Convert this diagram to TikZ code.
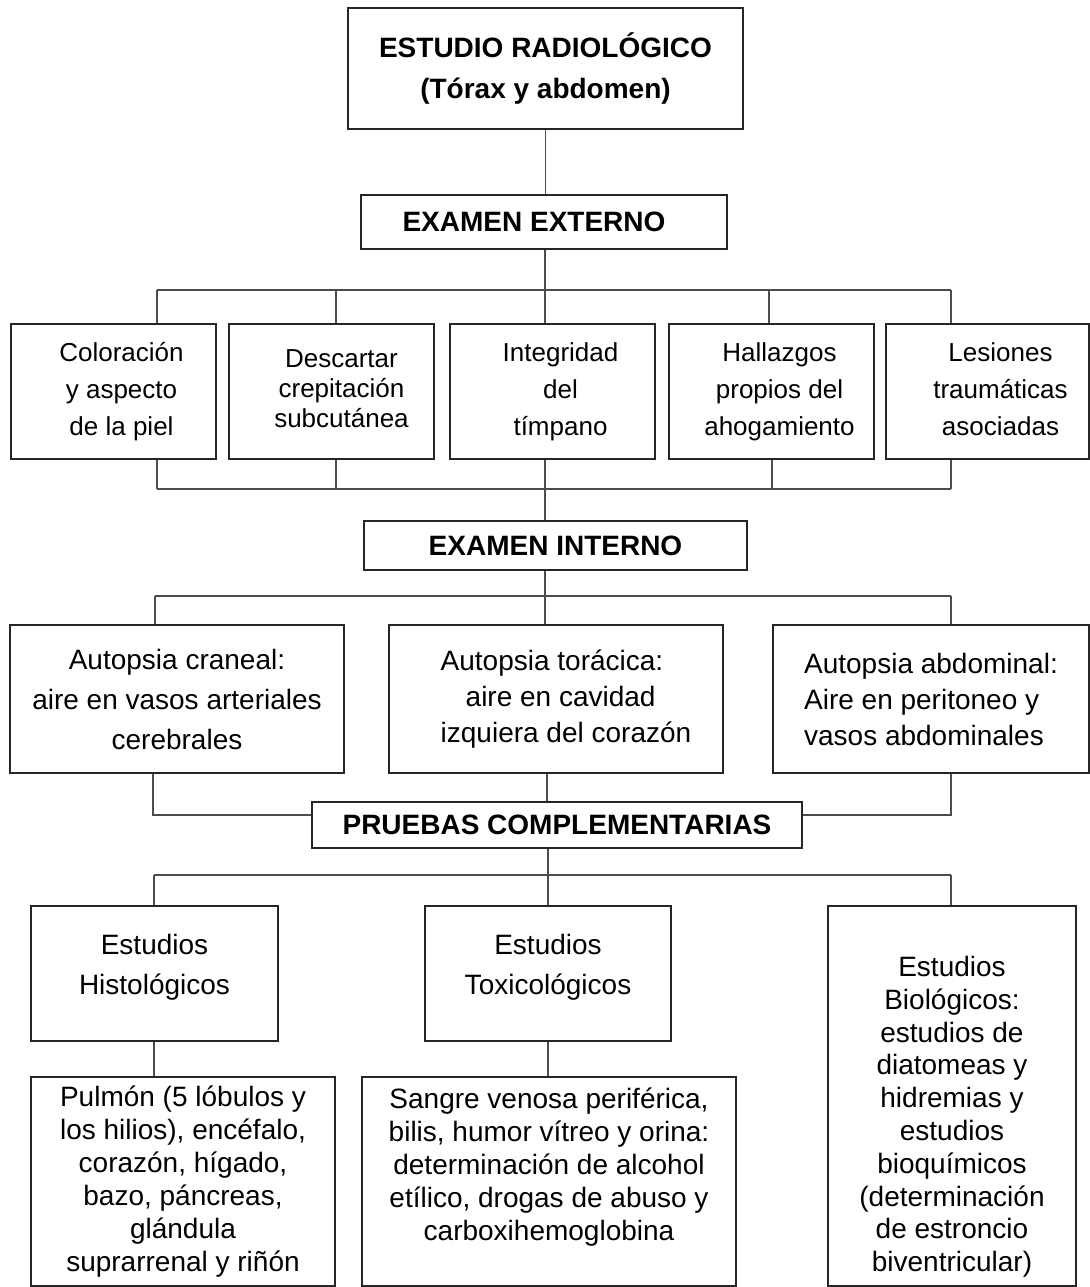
\documentclass[tikz,border=0pt]{standalone}
\usepackage{fontspec}
\setmainfont{Liberation Sans}
\newcommand\shifted[3]{\begin{tabular}{@{\hspace*{#1}}#2@{}}#3\end{tabular}}
\tikzset{
  box/.style={draw=black!85, line width=0.75pt, align=center, inner sep=0pt,
    font=\fontsize{14}{20}\selectfont},
  headbox/.style={box, font=\bfseries\fontsize{14}{20.5}\selectfont},
  smallbox/.style={box, minimum width=102.5pt, minimum height=67.5pt,
    font=\fontsize{13}{18.5}\selectfont},
  link/.style={draw=black!70, line width=0.75pt},
}
\begin{document}
\begin{tikzpicture}[x=0.5pt,y=-0.5pt]
      \useasboundingbox (0,0) rectangle (1089,1287);
      \node[headbox, minimum width=197.5pt, minimum height=60.5pt] (top) at (545.5,68.5)
        {ESTUDIO RADIOLÓGICO\\(Tórax y abdomen)};
      \node[headbox, minimum width=183pt, minimum height=27pt] (ext) at (544,222)
        {EXAMEN EXTERNO\hspace*{10pt}};
      \draw
        (113.5,391.5) node[smallbox] (col) {\shifted{8pt}{c}{Coloración\\y aspecto\\de la piel}}
        (331.5,391.5) node[smallbox, font=\fontsize{13}{15}\selectfont] (cre)
          {\shifted{10pt}{c}{Descartar\\crepitación\\subcutánea}}
        (552.5,391.5) node[smallbox] (tim) {\shifted{8pt}{c}{Integridad\\del\\tímpano}}
        (771.5,391.5) node[smallbox] (aho) {\shifted{8pt}{c}{Hallazgos\\propios del\\ahogamiento}}
        (987.5,391.5) node[smallbox, minimum width=101.5pt] (les)
          {\shifted{13pt}{c}{Lesiones\\traumáticas\\asociadas}};
      \node[headbox, minimum width=191.5pt, minimum height=24.5pt] (int) at (555.5,545.5) {EXAMEN INTERNO};
      \draw
        (177,699) node[box, minimum width=167pt, minimum height=74pt] (cra)
          {Autopsia craneal:\\aire en vasos arteriales\\cerebrales}
        (556,699) node[box, minimum width=167pt, minimum height=74pt,
          font=\fontsize{14}{18}\selectfont] (tor)
          {\shifted{10pt}{l}{Autopsia torácica:\\\hspace*{12.5pt}aire en cavidad\\izquiera del corazón}}
        (931,699) node[box, align=left, minimum width=158pt, minimum height=74pt,
          font=\fontsize{14}{18}\selectfont] (abd)
          {Autopsia abdominal:\\Aire en peritoneo y\\vasos abdominales};
      \node[headbox, minimum width=245pt, minimum height=23pt] (pru) at (557,825) {PRUEBAS COMPLEMENTARIAS};
      \draw
        (154.5,973.5) node[box, minimum width=123.5pt, minimum height=67.5pt] (his)
          {Estudios\\Histológicos\rule[-9pt]{0pt}{9pt}}
        (548,973.5) node[box, minimum width=123pt, minimum height=67.5pt] (tox)
          {Estudios\\Toxicológicos\rule[-9pt]{0pt}{9pt}}
        (952,1096) node[box, minimum width=124pt, minimum height=190pt,
          font=\fontsize{14}{16.4}\selectfont] (bio)
          {\rule{0pt}{31pt}Estudios\\Biológicos:\\estudios de\\diatomeas y\\hidremias y\\estudios\\bioquímicos\\(determinación\\de estroncio\\biventricular)}
        (183,1181.5) node[box, minimum width=152pt, minimum height=104.5pt,
          font=\fontsize{14}{16.5}\selectfont] (pul)
          {Pulmón (5 lóbulos y\\los hilios), encéfalo,\\corazón, hígado,\\bazo, páncreas,\\glándula\\suprarrenal y riñón}
        (549,1181.5) node[box, minimum width=187pt, minimum height=104.5pt,
          font=\fontsize{14}{16.5}\selectfont] (san)
          {Sangre venosa periférica,\\bilis, humor vítreo y orina:\\determinación de alcohol\\etílico, drogas de abuso y\\carboxihemoglobina\rule[-17pt]{0pt}{17pt}};
      \begin{scope}[link]
        \draw (top.south) -- (top.south |- ext.north);
        \foreach \n/\x/\y in {col/157/157, cre/336/336, tim/545/545, aho/769/772, les/951/951}{
          \coordinate (t\n) at (\x,290);
          \coordinate (b\n) at (\y,489);
          \draw (t\n) -- (t\n |- \n.north);
          \draw (b\n |- \n.south) -- (b\n);
        }
        \draw (ttim |- ext.south) -- (ttim);
        \draw (tcol) -- (tles);
        \draw (bcol) -- (bles);
        \draw (btim) -- (btim |- int.north);
        \foreach \n/\x in {cra/155, tor/545, abd/951}{
          \coordinate (u\n) at (\x,596);
          \draw (u\n) -- (u\n |- \n.north);
        }
        \draw (ucra) -- (uabd);
        \draw (utor |- int.south) -- (utor);
        \coordinate (dcra) at (153,815);
        \coordinate (dtor) at (547,790);
        \coordinate (dabd) at (951,815);
        \draw (dcra |- cra.south) -- (dcra) -- (pru.west |- dcra);
        \draw (dabd |- abd.south) -- (dabd) -- (pru.east |- dabd);
        \draw (dtor |- tor.south) -- (dtor |- pru.north);
        \foreach \n/\x in {his/154, tox/548, bio/951}{
          \coordinate (v\n) at (\x,875);
          \draw (v\n) -- (v\n |- \n.north);
        }
        \draw (vhis) -- (vbio);
        \draw (vtox |- pru.south) -- (vtox);
        \draw (vhis |- his.south) -- (vhis |- pul.north);
        \draw (vtox |- tox.south) -- (vtox |- san.north);
      \end{scope}
    \end{tikzpicture}
\end{document}
